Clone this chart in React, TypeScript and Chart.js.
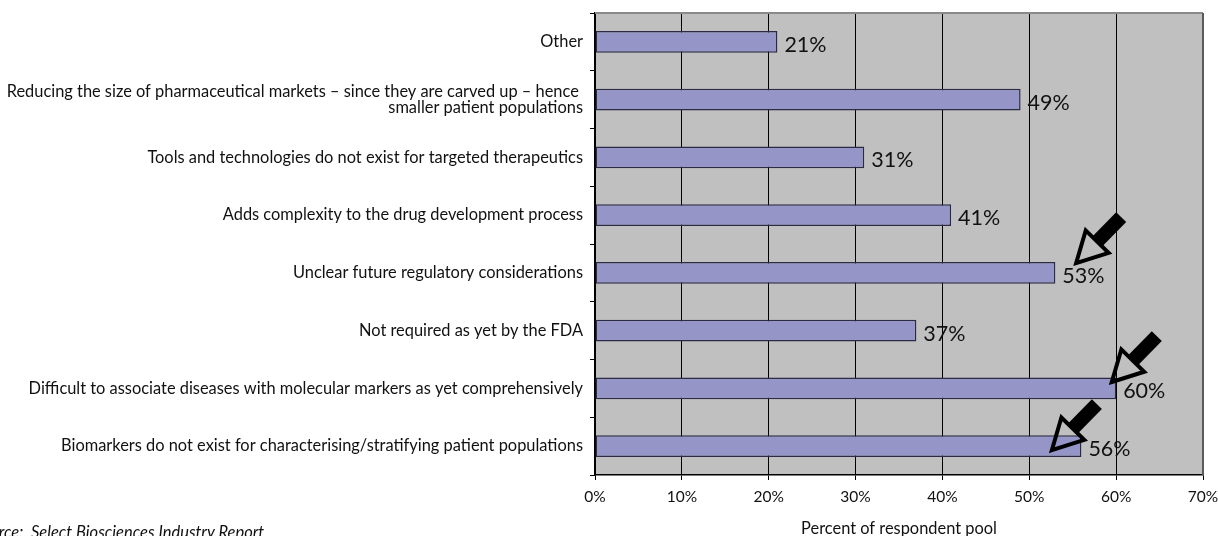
import React, { useEffect, useRef } from "react";
import { Chart, registerables } from "chart.js";

Chart.register(...registerables);

const categories: (string | string[])[] = [
  "Other",
  ["Reducing the size of pharmaceutical markets – since they are carved up – hence ", "smaller patient populations"],
  "Tools and technologies do not exist for targeted therapeutics",
  "Adds complexity to the drug development process",
  "Unclear future regulatory considerations",
  "Not required as yet by the FDA",
  "Difficult to associate diseases with molecular markers as yet comprehensively",
  "Biomarkers do not exist for characterising/stratifying patient populations",
];

const values: number[] = [21, 49, 31, 41, 53, 37, 60, 56];

const xTicks: number[] = [0, 10, 20, 30, 40, 50, 60, 70];

// arrows pointing at highlighted bars: category index, value at tip, category offset at tip
const arrowCategories: number[] = [4, 6, 7];
const arrowTipValues: number[] = [55.4, 59.5, 52.6];
const arrowTipOffsets: number[] = [-0.17, -0.11, 0.07];

const xTitle = "Percent of respondent pool";
const sourceText = "Source:  Select Biosciences Industry Report";

const FONT = "Lato, 'Open Sans', sans-serif";

const plotBg = {
  id: "plotBg",
  beforeDraw(chart: any) {
    const { ctx, chartArea } = chart;
    ctx.save();
    ctx.fillStyle = "#c0c0c0";
    ctx.fillRect(chartArea.left, chartArea.top, chartArea.right - chartArea.left, chartArea.bottom - chartArea.top);
    ctx.restore();
  },
  afterDraw(chart: any) {
    const { ctx, chartArea } = chart;
    ctx.save();
    ctx.lineWidth = 2;
    ctx.strokeStyle = "#8a8a8a";
    ctx.beginPath();
    ctx.moveTo(chartArea.left, chartArea.top);
    ctx.lineTo(chartArea.right, chartArea.top);
    ctx.stroke();
    ctx.strokeStyle = "#5a5a5a";
    ctx.beginPath();
    ctx.moveTo(chartArea.right, chartArea.top);
    ctx.lineTo(chartArea.right, chartArea.bottom);
    ctx.stroke();
    ctx.restore();
  },
};

const dataLabels = {
  id: "dataLabels",
  afterDatasetsDraw(chart: any) {
    const { ctx } = chart;
    const meta = chart.getDatasetMeta(0);
    ctx.save();
    ctx.font = `21.5px ${FONT}`;
    ctx.fillStyle = "#111";
    ctx.textAlign = "left";
    ctx.textBaseline = "middle";
    meta.data.forEach((bar: any, i: number) => {
      ctx.fillText(`${values[i]}%`, bar.x + 7, bar.y + 3);
    });
    ctx.restore();
  },
};

const arrows = {
  id: "arrows",
  afterDraw(chart: any) {
    const { ctx } = chart;
    const xs = chart.scales.x;
    const ys = chart.scales.y;
    ctx.save();
    arrowCategories.forEach((c, i) => {
      const tx = xs.getPixelForValue(arrowTipValues[i]);
      const ty = ys.getPixelForValue(c + arrowTipOffsets[i]);
      const dx = 45, dy = -46;
      const len = Math.hypot(dx, dy);
      const ux = dx / len, uy = dy / len;
      const px = -uy, py = ux;
      const headLen = 30, headHalf = 16, shaftHalf = 7;
      const bx = tx + ux * headLen, by = ty + uy * headLen;
      const ex = tx + dx, ey = ty + dy;
      ctx.fillStyle = "#000";
      ctx.beginPath();
      ctx.moveTo(bx + px * shaftHalf, by + py * shaftHalf);
      ctx.lineTo(ex + px * shaftHalf, ey + py * shaftHalf);
      ctx.lineTo(ex - px * shaftHalf, ey - py * shaftHalf);
      ctx.lineTo(bx - px * shaftHalf, by - py * shaftHalf);
      ctx.closePath();
      ctx.fill();
      ctx.strokeStyle = "#000";
      ctx.lineWidth = 4;
      ctx.lineJoin = "miter";
      ctx.beginPath();
      ctx.moveTo(tx, ty);
      ctx.lineTo(bx + px * headHalf, by + py * headHalf);
      ctx.lineTo(bx - px * headHalf, by - py * headHalf);
      ctx.closePath();
      ctx.stroke();
    });
    ctx.restore();
  },
};

export default function App() {
  const ref = useRef<HTMLCanvasElement | null>(null);

  useEffect(() => {
    if (!ref.current) return;
    const chart = new Chart(ref.current, {
      type: "bar",
      data: {
        labels: categories as any,
        datasets: [
          {
            data: values,
            backgroundColor: "#9595c8",
            borderColor: "#2b2b45",
            borderWidth: 1.5,
            borderSkipped: false,
            categoryPercentage: 1,
            barPercentage: 0.38,
          },
        ],
      },
      options: {
        indexAxis: "y",
        animation: false,
        responsive: false,
        devicePixelRatio: 1,
        layout: { padding: { top: 13, right: 15, left: 0, bottom: 0 } },
        plugins: { legend: { display: false }, tooltip: { enabled: false } },
        scales: {
          x: {
            min: 0,
            max: 70,
            afterFit: (s: any) => {
              s.height = 61;
              s.paddingLeft = 0;
              s.paddingRight = 0;
            },
            afterBuildTicks: (s: any) => {
              s.ticks = xTicks.map((v) => ({ value: v }));
            },
            ticks: {
              color: "#111",
              font: { family: FONT, size: 15.5 },
              padding: 8,
              callback: (v: any) => `${v}%`,
              maxRotation: 0,
            },
            grid: {
              color: "#000",
              tickColor: "#000",
              tickLength: 5,
              lineWidth: 1,
            },
            border: { color: "#000", width: 1.5 },
            title: {
              display: true,
              text: xTitle,
              color: "#111",
              font: { family: FONT, size: 16.4, lineHeight: 1 },
              padding: { top: 0, bottom: -1 },
            },
          },
          y: {
            afterFit: (s: any) => {
              s.width = 595;
              s.paddingTop = 0;
              s.paddingBottom = 0;
            },
            ticks: {
              color: "#111",
              font: { family: FONT, size: 16.4, lineHeight: 1.0 },
              padding: 7,
            },
            grid: {
              drawOnChartArea: false,
              color: "#000",
              tickLength: 5,
              offset: true,
            },
            border: { color: "#000", width: 1.5 },
          },
        },
      },
      plugins: [plotBg, dataLabels, arrows],
    });
    return () => chart.destroy();
  }, []);

  return (
    <div
      style={{
        position: "fixed",
        left: 0,
        top: 0,
        width: 1218,
        height: 536,
        overflow: "hidden",
        background: "#fff",
      }}
    >
      <canvas ref={ref} width={1218} height={536} style={{ display: "block" }} />
      <div
        style={{
          position: "absolute",
          left: -27,
          top: 522,
          fontFamily: FONT,
          fontStyle: "italic",
          fontSize: 16.5,
          lineHeight: "20px",
          color: "#111",
          whiteSpace: "pre",
        }}
      >
        {sourceText}
      </div>
    </div>
  );
}
